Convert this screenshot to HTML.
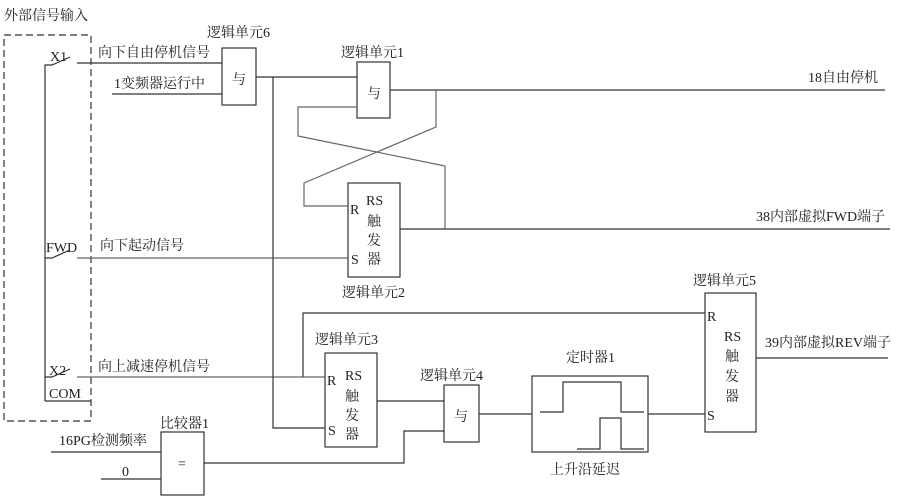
<!DOCTYPE html>
<html><head><meta charset="utf-8"><style>
body{margin:0;background:#fff}
svg{display:block}
text{font-family:"Liberation Serif","Noto Serif CJK SC",serif;font-size:14px;fill:#222}
</style></head><body>
<svg width="900" height="502" viewBox="0 0 900 502" xmlns="http://www.w3.org/2000/svg">
<g fill="none" stroke="#333" stroke-width="1.2">
<rect x="4" y="35" width="87" height="386" stroke-dasharray="7,4"/>
<polyline points="45,401 45,65 52,65 70,57"/>
<line x1="91" y1="401" x2="45" y2="401"/>
<polyline points="45,258 52,258 70,250"/>
<polyline points="45,377 52,377 70,369"/>
<line x1="77" y1="63" x2="222" y2="63"/>
<line x1="112" y1="94" x2="222" y2="94"/>
<line x1="77" y1="258" x2="348" y2="258" stroke="#666"/>
<line x1="77" y1="377" x2="325" y2="377" stroke="#666"/>
<rect x="222" y="48" width="34" height="57"/>
<rect x="357" y="62" width="33" height="56"/>
<rect x="348" y="183" width="52" height="94"/>
<rect x="325" y="353" width="52" height="94"/>
<rect x="444" y="385" width="35" height="57"/>
<rect x="532" y="376" width="116" height="76"/>
<rect x="705" y="293" width="51" height="139"/>
<rect x="161" y="432" width="43" height="63"/>
<line x1="256" y1="77" x2="357" y2="77"/>
<polyline points="273,77 273,428 325,428"/>
<line x1="390" y1="90" x2="885" y2="90"/>
<polyline points="357,107 298,107 298,136 445,166 445,229" stroke="#666"/>
<polyline points="436,90 436,127 304,183 304,206 348,206" stroke="#666"/>
<line x1="400" y1="229" x2="890" y2="229"/>
<polyline points="303,377 303,313 705,313"/>
<line x1="756" y1="358" x2="888" y2="358"/>
<line x1="377" y1="401" x2="444" y2="401"/>
<polyline points="204,463 404,463 404,431 444,431"/>
<line x1="479" y1="414" x2="532" y2="414"/>
<line x1="648" y1="414" x2="705" y2="414"/>
<polyline points="540,412 563,412 563,382 621,382 621,412 644,412"/>
<polyline points="577,449 600,449 600,418 621,418 621,449 644,449"/>
<line x1="51" y1="452" x2="161" y2="452"/>
<line x1="101" y1="479" x2="161" y2="479"/>
</g>
<text x="4" y="20">外部信号输入</text>
<text x="50" y="61">X1</text>
<text x="46" y="252">FWD</text>
<text x="49" y="375">X2</text>
<text x="49" y="398">COM</text>
<text x="98" y="57">向下自由停机信号</text>
<text x="114" y="88">1变频器运行中</text>
<text x="100" y="250">向下起动信号</text>
<text x="98" y="371">向上减速停机信号</text>
<text x="207" y="37">逻辑单元6</text>
<text x="232" y="84">与</text>
<text x="341" y="57">逻辑单元1</text>
<text x="367" y="98">与</text>
<text x="808" y="82">18自由停机</text>
<text x="350" y="214">R</text>
<text x="366" y="205">RS</text>
<text x="367" y="226">触</text>
<text x="367" y="245">发</text>
<text x="367" y="264">器</text>
<text x="351" y="264">S</text>
<text x="342" y="297">逻辑单元2</text>
<text x="756" y="221">38内部虚拟FWD端子</text>
<text x="315" y="344">逻辑单元3</text>
<text x="327" y="385">R</text>
<text x="345" y="380">RS</text>
<text x="345" y="401">触</text>
<text x="345" y="420">发</text>
<text x="345" y="439">器</text>
<text x="328" y="435">S</text>
<text x="420" y="380">逻辑单元4</text>
<text x="454" y="421">与</text>
<text x="566" y="362">定时器1</text>
<text x="550" y="474">上升沿延迟</text>
<text x="693" y="285">逻辑单元5</text>
<text x="707" y="321">R</text>
<text x="724" y="341">RS</text>
<text x="725" y="361">触</text>
<text x="725" y="381">发</text>
<text x="725" y="401">器</text>
<text x="707" y="420">S</text>
<text x="765" y="347">39内部虚拟REV端子</text>
<text x="160" y="428">比较器1</text>
<text x="178" y="468">=</text>
<text x="59" y="445">16PG检测频率</text>
<text x="122" y="476">0</text>
</svg>
</body></html>
